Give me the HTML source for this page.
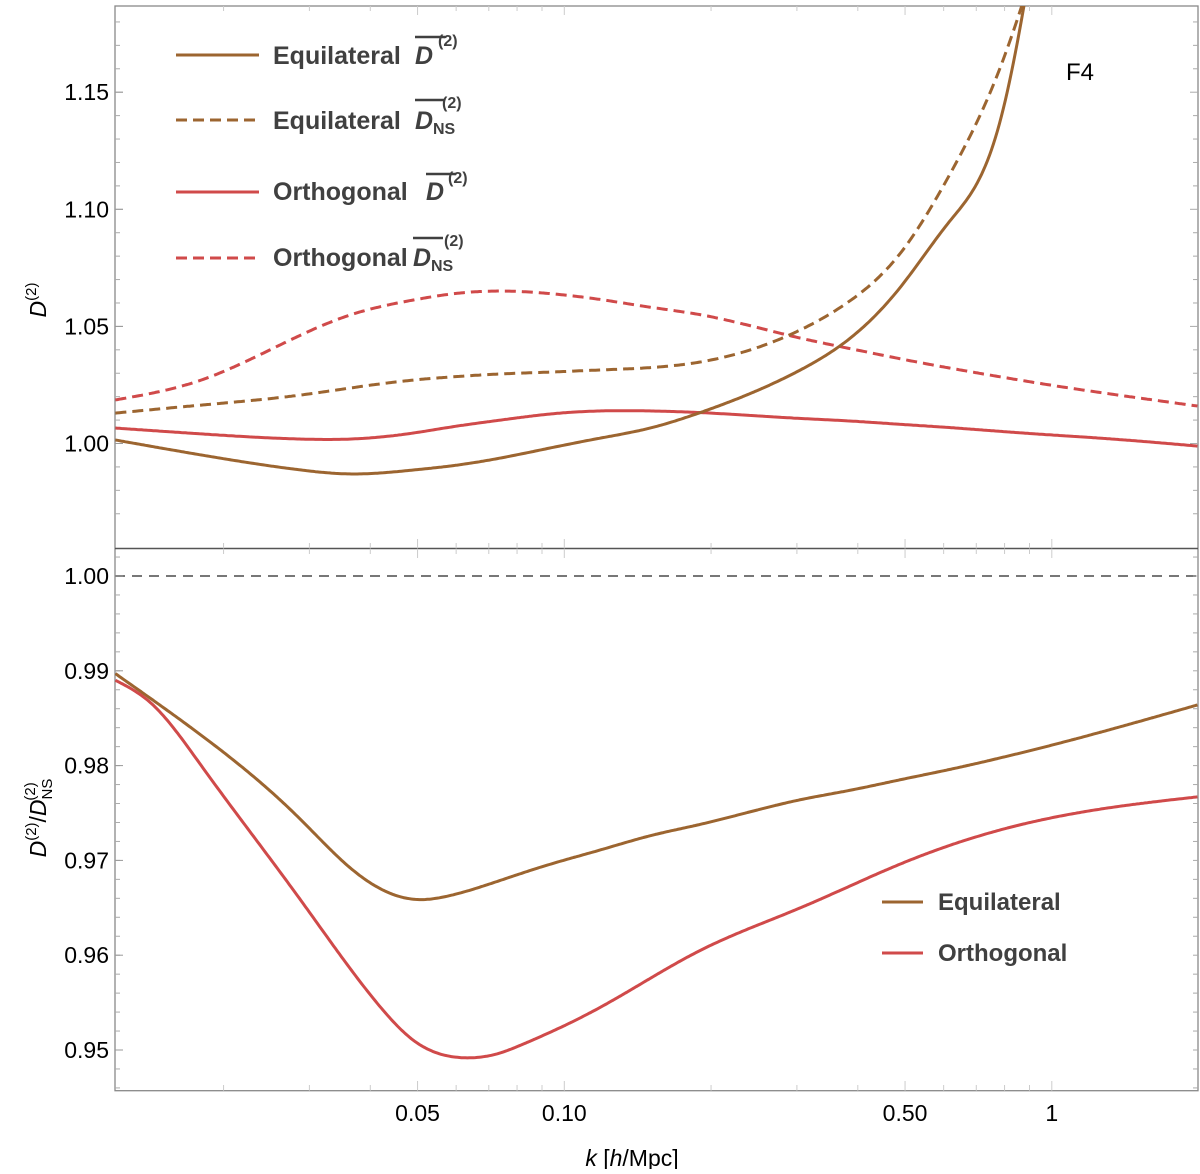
<!DOCTYPE html>
<html><head><meta charset="utf-8"><style>
html,body{margin:0;padding:0;background:#fff;}
svg text{font-family:"Liberation Sans",sans-serif;}
</style></head><body>
<svg id="chart" width="1200" height="1169" viewBox="0 0 1200 1169" xmlns="http://www.w3.org/2000/svg">
<defs>
<clipPath id="clipTop"><rect x="115" y="6" width="1083" height="542"/></clipPath>
<clipPath id="clipBot"><rect x="115" y="549" width="1083" height="542"/></clipPath>
</defs>
<g id="axes"></g>
<g id="series"></g>
<g id="legend-top" font-weight="bold" font-size="25" fill="#404040">
  <line x1="176" y1="55" x2="259" y2="55" stroke="#9c6530" stroke-width="3"/>
  <text x="273" y="64">Equilateral</text>
  <text x="415" y="64" font-style="italic">D</text>
  <text x="438" y="46" font-size="16">(2)</text>
  <line x1="415" y1="37" x2="445" y2="37" stroke="#404040" stroke-width="2.5"/>

  <line x1="176" y1="120" x2="259" y2="120" stroke="#9c6530" stroke-width="3" stroke-dasharray="11,6"/>
  <text x="273" y="129">Equilateral</text>
  <text x="415" y="129" font-style="italic">D</text>
  <text x="433" y="134" font-size="16">NS</text>
  <text x="442" y="108" font-size="16">(2)</text>
  <line x1="415" y1="100" x2="445" y2="100" stroke="#404040" stroke-width="2.5"/>

  <line x1="176" y1="192" x2="259" y2="192" stroke="#d04a4a" stroke-width="3"/>
  <text x="273" y="200">Orthogonal</text>
  <text x="426" y="200" font-style="italic">D</text>
  <text x="448" y="183" font-size="16">(2)</text>
  <line x1="426" y1="174" x2="456" y2="174" stroke="#404040" stroke-width="2.5"/>

  <line x1="176" y1="258" x2="259" y2="258" stroke="#d04a4a" stroke-width="3" stroke-dasharray="11,6"/>
  <text x="273" y="266">Orthogonal</text>
  <text x="413" y="266" font-style="italic">D</text>
  <text x="431" y="271" font-size="16">NS</text>
  <text x="444" y="246" font-size="16">(2)</text>
  <line x1="413" y1="238" x2="443" y2="238" stroke="#404040" stroke-width="2.5"/>
</g>
<text x="1066" y="80" font-size="24" fill="#000">F4</text>
<g id="legend-bottom" font-weight="bold" font-size="24" fill="#404040">
  <line x1="882" y1="902" x2="923" y2="902" stroke="#9c6530" stroke-width="3"/>
  <text x="938" y="910">Equilateral</text>
  <line x1="882" y1="953" x2="923" y2="953" stroke="#d04a4a" stroke-width="3"/>
  <text x="938" y="961">Orthogonal</text>
</g>
<text transform="translate(46,300) rotate(-90)" text-anchor="middle" font-size="23"><tspan font-style="italic">D</tspan><tspan font-size="15" dy="-10">(2)</tspan></text>
<text transform="translate(46,818) rotate(-90)" text-anchor="middle" font-size="23"><tspan font-style="italic">D</tspan><tspan font-size="15" dy="-10">(2)</tspan><tspan dy="10">/</tspan><tspan font-style="italic">D</tspan><tspan font-size="15" dy="6">NS</tspan><tspan font-size="15" dx="-22" dy="-17">(2)</tspan></text>
<text x="632" y="1166" text-anchor="middle" font-size="23"><tspan font-style="italic">k</tspan> [<tspan font-style="italic">h</tspan>/Mpc]</text>
</svg>
<script>
const kGrid = [0.012,0.018,0.0288,0.0364,0.0491,0.0584,0.074,0.0936,0.1185,0.150,0.19,0.305,0.386,0.488,0.618,0.782,0.99,1.254,1.99];
const eqD = [1.0015,0.9951,0.9887,0.9870,0.9887,0.9904,0.9938,0.9981,1.0023,1.0066,1.0132,1.0314,1.0450,1.0665,1.0950,1.1370,1.255];
const eqDNS = [1.0130,1.0164,1.0207,1.0237,1.0271,1.0284,1.0297,1.0305,1.0314,1.0324,1.0348,1.0485,1.0610,1.0810,1.1150,1.1600,1.225];
const orD = [1.0066,1.0041,1.0019,1.0019,1.0045,1.0070,1.0100,1.0126,1.0139,1.0139,1.0132,1.0107,1.0096,1.0082,1.0068,1.0052,1.0037,1.0023,0.9989];
const orDNS = [1.0186,1.0271,1.0463,1.0549,1.0613,1.0638,1.0651,1.0640,1.0615,1.0582,1.0550,1.0450,1.0405,1.0362,1.0322,1.0285,1.0250,1.0218,1.016];
const eqRatio = [0.9897,0.9832,0.9743,0.9692,0.9659,0.9663,0.9679,0.9696,0.9711,0.9726,0.9738,0.9764,0.9774,0.9785,0.9796,0.9808,0.9821,0.9835,0.9864];
const orRatioK = [0.012,0.01419,0.018,0.0288,0.042,0.0491,0.0612,0.074,0.0813,0.1185,0.19,0.305,0.488,0.782,1.254,1.99];
const orRatio = [0.989,0.9866,0.9800,0.9658,0.9545,0.9510,0.9492,0.9497,0.9505,0.9545,0.9605,0.9650,0.9696,0.9732,0.9754,0.9767];
const topTicks = [1.00,1.05,1.10,1.15];
const topTickLabels = ["1.00","1.05","1.10","1.15"];
const botTicks = [0.95,0.96,0.97,0.98,0.99,1.00];
const botTickLabels = ["0.95","0.96","0.97","0.98","0.99","1.00"];
const xTicks = [0.05,0.1,0.5,1];
const xTickLabels = ["0.05","0.10","0.50","1"];

const NS="http://www.w3.org/2000/svg";
const X0=115,X1=1198;
function xs(k){return 564.3+487.5*Math.log10(k/0.1);}
function yTop(v){return 443.5-(v-1)*2342;}
function yBot(v){return 576+(1-v)*9480;}
function mk(tag,attrs,parent){const e=document.createElementNS(NS,tag);for(const a in attrs)e.setAttribute(a,attrs[a]);parent.appendChild(e);return e;}
const axes=document.getElementById('axes'),series=document.getElementById('series');

let f=mk('rect',{x:X0,y:6,width:X1-X0,height:1090.7-6,fill:'none',stroke:'#888','stroke-width':1.3},axes);


let dv=mk('line',{x1:X0,y1:548.5,x2:X1,y2:548.5,stroke:'#555','stroke-width':1.5},axes);


let ref=mk('line',{x1:X0,y1:yBot(1),x2:X1,y2:yBot(1),stroke:'#777','stroke-width':2,'stroke-dasharray':'10,7'},axes);



for(let i=97;i<=119;i++){const v=i/100;const y=yTop(v);if(y<8||y>546)continue;const maj=i%5===0;
 mk('line',{x1:X0,y1:y,x2:X0+(maj?8:5),y2:y,stroke:'#aaa'},axes);mk('line',{x1:X1,y1:y,x2:X1-(maj?8:5),y2:y,stroke:'#aaa'},axes);}
for(let i=946;i<=1003;i+=2){const v=i/1000;const y=yBot(v);if(y<550||y>1089)continue;
 mk('line',{x1:X0,y1:y,x2:X0+5,y2:y,stroke:'#aaa'},axes);mk('line',{x1:X1,y1:y,x2:X1-5,y2:y,stroke:'#aaa'},axes);}
topTicks.forEach((v,i)=>{const y=yTop(v);mk('line',{x1:X0,y1:y,x2:X0+8,y2:y,stroke:'#999'},axes);
 const t=mk('text',{x:X0-6,y:y+8,'text-anchor':'end','font-size':23},axes);t.textContent=topTickLabels[i];
 
 });
botTicks.forEach((v,i)=>{const y=yBot(v);mk('line',{x1:X0,y1:y,x2:X0+8,y2:y,stroke:'#999'},axes);
 const t=mk('text',{x:X0-6,y:y+8,'text-anchor':'end','font-size':23},axes);t.textContent=botTickLabels[i];
 
 });
const minorK=[0.02,0.03,0.04,0.06,0.07,0.08,0.09,0.2,0.3,0.4,0.6,0.7,0.8,0.9,2];
minorK.forEach(k=>{const x=xs(k);if(x<X0||x>X1)return;
 mk('line',{x1:x,y1:1090.7,x2:x,y2:1085,stroke:'#ccc'},axes);mk('line',{x1:x,y1:548.5,x2:x,y2:543,stroke:'#ccc'},axes);mk('line',{x1:x,y1:549,x2:x,y2:554,stroke:'#ccc'},axes);mk('line',{x1:x,y1:6,x2:x,y2:11,stroke:'#ccc'},axes);});
xTicks.forEach((k,i)=>{const x=xs(k);
 mk('line',{x1:x,y1:1090.7,x2:x,y2:1081,stroke:'#ccc'},axes);mk('line',{x1:x,y1:548.5,x2:x,y2:539,stroke:'#ccc'},axes);mk('line',{x1:x,y1:549,x2:x,y2:558,stroke:'#ccc'},axes);mk('line',{x1:x,y1:6,x2:x,y2:15,stroke:'#ccc'},axes);
 const t=mk('text',{x:x,y:1121,'text-anchor':'middle','font-size':23},axes);t.textContent=xTickLabels[i];
 
 });

function spline(px,py){const n=px.length;const h=[],al=[],l=[1],mu=[0],z=[0],c=new Array(n).fill(0),b=[],d=[];
 for(let i=0;i<n-1;i++)h.push(px[i+1]-px[i]);
 for(let i=1;i<n-1;i++)al[i]=3/h[i]*(py[i+1]-py[i])-3/h[i-1]*(py[i]-py[i-1]);
 for(let i=1;i<n-1;i++){l[i]=2*(px[i+1]-px[i-1])-h[i-1]*mu[i-1];mu[i]=h[i]/l[i];z[i]=(al[i]-h[i-1]*z[i-1])/l[i];}
 for(let j=n-2;j>=0;j--){c[j]=(j>0?z[j]-mu[j]*c[j+1]:0);b[j]=(py[j+1]-py[j])/h[j]-h[j]*(c[j+1]+2*c[j])/3;d[j]=(c[j+1]-c[j])/(3*h[j]);}
 return x=>{let i=0;while(i<n-2&&x>px[i+1])i++;const t=x-px[i];return py[i]+b[i]*t+c[i]*t*t+d[i]*t*t*t;};}
function draw(ks,vals,yf,color,dash,clip,name){
 const px=vals.map((v,i)=>xs(ks[i])),py=vals.map(v=>yf(v));
 const s=spline(px,py);let d='';
 for(let x=px[0];x<=px[px.length-1]+0.01;x+=2){d+=(d?'L':'M')+x.toFixed(1)+','+s(x).toFixed(1);}
 const p=mk('path',{d:d,fill:'none',stroke:color,'stroke-width':3,'stroke-linejoin':'round','clip-path':'url(#'+clip+')'},series);
 if(dash)p.setAttribute('stroke-dasharray',dash);
 
 }
const BR='#9c6530',RD='#d04a4a';
draw(kGrid,orDNS,yTop,RD,'11,6','clipTop','orthogonal-dns-line');
draw(kGrid,orD,yTop,RD,null,'clipTop','orthogonal-d-line');
draw(kGrid,eqDNS,yTop,BR,'11,6','clipTop','equilateral-dns-line');
draw(kGrid,eqD,yTop,BR,null,'clipTop','equilateral-d-line');
draw(kGrid,eqRatio,yBot,BR,null,'clipBot','equilateral-ratio-line');
draw(orRatioK,orRatio,yBot,RD,null,'clipBot','orthogonal-ratio-line');
</script>
</body></html>
